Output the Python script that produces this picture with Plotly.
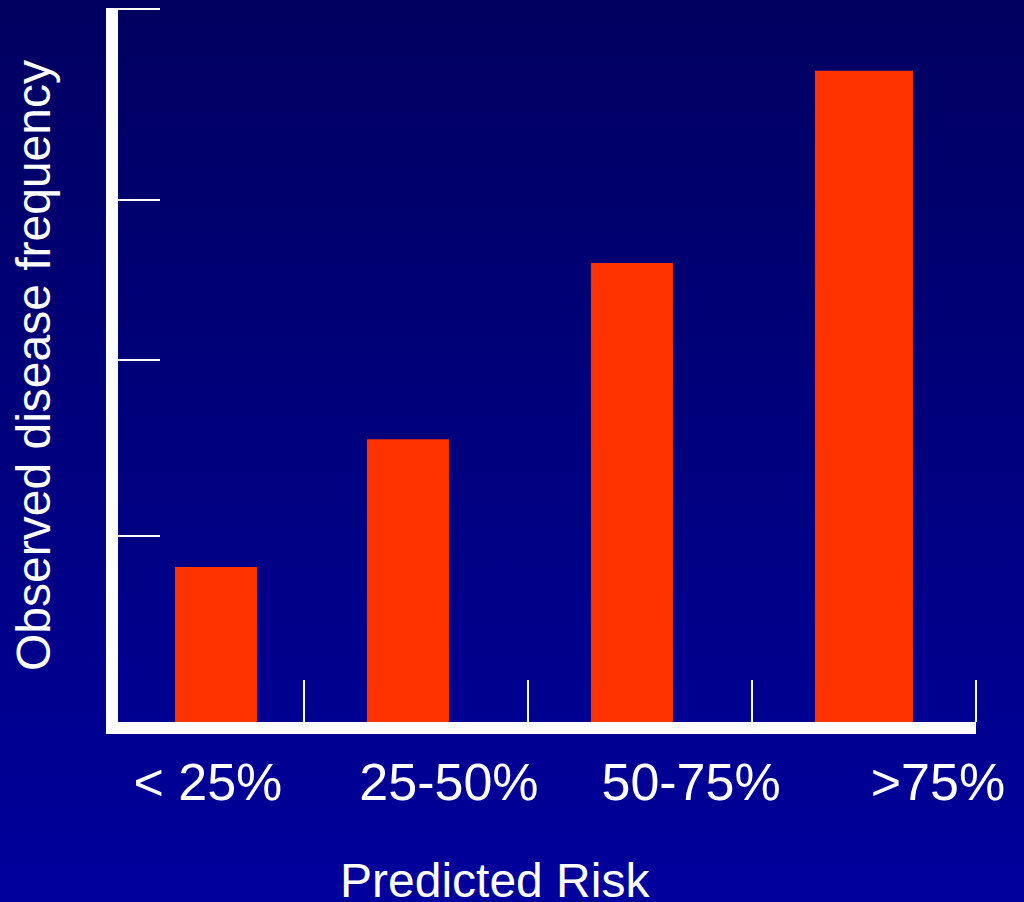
import base64
import plotly.graph_objects as go

# Risk groups and the observed frequency measured in each
categories = ["< 25%", "25-50%", "50-75%", ">75%"]
observed = [21.7, 39.6, 64.3, 91.2]
y_ticks = [26.05, 50.7, 73.1, 99.8]

# Horizontal layout of the bars inside each category slot (slot width = 1)
slot_pos = [0, 1, 2, 3]
bar_offset = [0.424, 0.281, 0.281, 0.281]
bar_width = [0.366, 0.366, 0.366, 0.4375]
label_pos = [0.571, 1.647, 2.728, 3.83]
slot_edges = [1, 2, 3, 4]

W, H = 1024, 902
ML, MR, MT, MB = 118, 48, 8, 180
PW, PH = W - ML - MR, H - MT - MB

FONT = "Liberation Sans, Arial, sans-serif"
WHITE = "#ffffff"

# Vertical navy-to-blue backdrop
svg = (
    '<svg xmlns="http://www.w3.org/2000/svg" width="100" height="100" preserveAspectRatio="none">'
    '<defs><linearGradient id="g" x1="0" y1="0" x2="0" y2="1">'
    '<stop offset="0" stop-color="#000060"/><stop offset="1" stop-color="#00009c"/>'
    '</linearGradient></defs><rect width="100" height="100" fill="url(#g)"/></svg>'
)
bg_src = "data:image/svg+xml;base64," + base64.b64encode(svg.encode()).decode()

fig = go.Figure(
    go.Bar(
        x=slot_pos,
        y=observed,
        offset=bar_offset,
        width=bar_width,
        marker=dict(color="#ff3300", line=dict(width=0)),
        hoverinfo="skip",
    )
)

fig.update_layout(
    width=W,
    height=H,
    margin=dict(l=ML, r=MR, t=MT, b=MB, pad=0),
    paper_bgcolor="#000080",
    plot_bgcolor="rgba(0,0,0,0)",
    showlegend=False,
    font=dict(family=FONT, color=WHITE),
    images=[
        dict(
            source=bg_src,
            xref="paper",
            yref="paper",
            x=-ML / PW,
            y=1 + MT / PH,
            sizex=W / PW,
            sizey=H / PH,
            xanchor="left",
            yanchor="top",
            sizing="stretch",
            layer="below",
        )
    ],
    xaxis=dict(
        range=[38 / 224, 4.0],
        showgrid=False,
        zeroline=False,
        showline=True,
        linecolor=WHITE,
        linewidth=12,
        ticks="",
        tickmode="array",
        tickvals=label_pos,
        ticktext=categories,
        tickfont=dict(family=FONT, size=52, color=WHITE),
        ticklabelstandoff=4,
        minor=dict(
            tickmode="array",
            tickvals=slot_edges,
            ticks="inside",
            ticklen=42,
            tickwidth=2,
            tickcolor=WHITE,
            showgrid=False,
        ),
        fixedrange=True,
    ),
    yaxis=dict(
        range=[0, 100],
        showgrid=False,
        zeroline=False,
        showline=True,
        linecolor=WHITE,
        linewidth=12,
        tickmode="array",
        tickvals=y_ticks,
        ticks="inside",
        ticklen=42,
        tickwidth=2,
        tickcolor=WHITE,
        showticklabels=False,
        fixedrange=True,
    ),
    annotations=[
        dict(
            text="Predicted Risk",
            xref="paper",
            yref="paper",
            x=(495 - ML) / PW,
            y=-(880 - MT - PH) / PH,
            xanchor="center",
            yanchor="middle",
            showarrow=False,
            font=dict(family=FONT, size=48, color=WHITE),
        ),
        dict(
            text="Observed disease frequency",
            textangle=-90,
            xref="paper",
            yref="paper",
            x=(33 - ML) / PW,
            y=(MT + PH - 366) / PH,
            xanchor="center",
            yanchor="middle",
            showarrow=False,
            font=dict(family=FONT, size=48, color=WHITE),
        ),
    ],
)

fig.write_html("out.html", config={"displayModeBar": False})
